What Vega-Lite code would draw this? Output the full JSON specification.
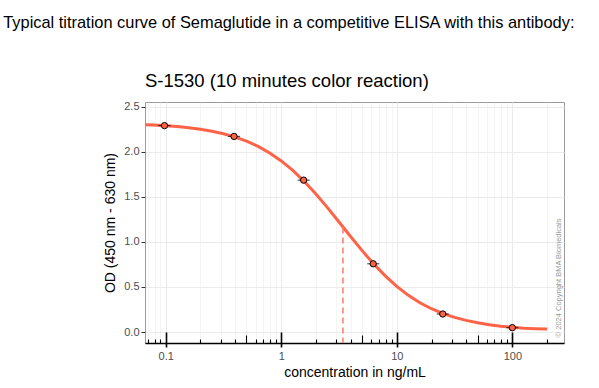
{
  "$schema": "https://vega.github.io/schema/vega-lite/v6.json",
  "padding": {"left": 3, "top": 15, "right": 5, "bottom": 5},
  "title": {
    "text": "Typical titration curve of Semaglutide in a competitive ELISA with this antibody:",
    "anchor": "start", "frame": "bounds", "dx": -100, "offset": 40,
    "fontSize": 16.4, "fontWeight": "normal", "color": "#000000", "font": "Liberation Sans"
  },
  "datasets": {
    "curve": [
      {"conc": 0.0662, "od": 2.300}, {"conc": 0.0794, "od": 2.297}, {"conc": 0.1, "od": 2.289},
      {"conc": 0.1259, "od": 2.279}, {"conc": 0.1585, "od": 2.267}, {"conc": 0.1995, "od": 2.250},
      {"conc": 0.2512, "od": 2.228}, {"conc": 0.3162, "od": 2.200}, {"conc": 0.3981, "od": 2.163},
      {"conc": 0.5012, "od": 2.117}, {"conc": 0.631, "od": 2.059}, {"conc": 0.7943, "od": 1.986},
      {"conc": 1, "od": 1.898}, {"conc": 1.259, "od": 1.793}, {"conc": 1.585, "od": 1.670},
      {"conc": 1.995, "od": 1.531}, {"conc": 2.512, "od": 1.380}, {"conc": 3.162, "od": 1.221},
      {"conc": 3.981, "od": 1.060}, {"conc": 5.012, "od": 0.903}, {"conc": 6.31, "od": 0.756},
      {"conc": 7.943, "od": 0.623}, {"conc": 10, "od": 0.506}, {"conc": 12.59, "od": 0.407},
      {"conc": 15.85, "od": 0.325}, {"conc": 19.95, "od": 0.258}, {"conc": 25.12, "od": 0.204},
      {"conc": 31.62, "od": 0.162}, {"conc": 39.81, "od": 0.129}, {"conc": 50.12, "od": 0.103},
      {"conc": 63.1, "od": 0.080}, {"conc": 79.43, "od": 0.064}, {"conc": 100, "od": 0.052},
      {"conc": 125.9, "od": 0.043}, {"conc": 158.5, "od": 0.037}, {"conc": 200, "od": 0.032}
    ],
    "points": [
      {"conc": 0.09765625, "od": 2.29}, {"conc": 0.390625, "od": 2.17}, {"conc": 1.5625, "od": 1.685},
      {"conc": 6.25, "od": 0.757}, {"conc": 25, "od": 0.2}, {"conc": 100, "od": 0.048}
    ],
    "ic50": [{"conc": 3.42, "od": 1.16}],
    "note": [{"conc": 255, "od": 0.6, "label": "© 2024 Copyright BMA Biomedicals"}]
  },
  "vconcat": [
    {
      "width": 419,
      "height": 241,
      "title": {
        "text": "S-1530 (10 minutes color reaction)",
        "anchor": "start", "frame": "group", "offset": 10,
        "fontSize": 18.5, "fontWeight": "normal", "color": "#000000", "font": "Liberation Sans"
      },
      "resolve": {"axis": {"x": "independent"}},
      "layer": [
        {
          "data": {"name": "curve"},
          "mark": {"type": "line", "color": "#ff6347", "strokeWidth": 3, "clip": true},
          "encoding": {
            "x": {
              "field": "conc", "type": "quantitative",
              "scale": {"type": "log", "domain": [0.0662, 280], "nice": false, "zero": false},
              "axis": {
                "orient": "bottom",
                "values": [0.07, 0.08, 0.09, 0.1, 0.2, 0.3, 0.4, 0.5, 0.6, 0.7, 0.8, 0.9, 1, 2, 3, 4, 5, 6, 7, 8, 9, 10, 20, 30, 40, 50, 60, 70, 80, 90, 100, 200],
                "title": null,
                "labels": false,
                "grid": true,
                "gridColor": "#ebebeb",
                "gridWidth": {"condition": {"test": "abs(log(datum.value)/LN10 - round(log(datum.value)/LN10)) < 0.001", "value": 1.1}, "value": 0.55},
                "domainColor": "#000000",
                "domainWidth": 1.4,
                "tickColor": "#000000",
                "tickWidth": {"condition": {"test": "abs(log(datum.value)/LN10 - round(log(datum.value)/LN10)) < 0.001", "value": 1.6}, "value": 1.1},
                "tickSize": {"condition": [
                  {"test": "abs(log(datum.value)/LN10 - round(log(datum.value)/LN10)) < 0.001", "value": -11},
                  {"test": "abs(datum.value / pow(10, floor(log(datum.value)/LN10 + 0.001)) - 5) < 0.01", "value": -8}
                ], "value": -4}
              }
            },
            "y": {
              "field": "od", "type": "quantitative",
              "scale": {"domain": [-0.122, 2.552], "nice": false, "zero": false},
              "axis": {
                "values": [0, 0.25, 0.5, 0.75, 1, 1.25, 1.5, 1.75, 2, 2.25, 2.5],
                "title": "OD (450 nm - 630 nm)",
                "grid": true,
                "gridColor": "#ebebeb",
                "gridWidth": {"condition": {"test": "abs(datum.value*2 - round(datum.value*2)) < 0.001", "value": 1.1}, "value": 0.55},
                "domain": false,
                "tickColor": "#333333",
                "tickSize": 4,
                "tickOpacity": {"condition": {"test": "abs(datum.value*2 - round(datum.value*2)) < 0.001", "value": 1}, "value": 0},
                "labelExpr": "abs(datum.value*2 - round(datum.value*2)) < 0.001 ? format(datum.value, '.1f') : ''",
                "labelPadding": 2,
                "labelOverlap": false,
                "titlePadding": 6
              }
            }
          }
        },
        {
          "data": {"name": "ic50"},
          "mark": {"type": "rule", "color": "#ff7a66", "strokeWidth": 1.5, "strokeDash": [6, 4], "clip": true},
          "encoding": {
            "x": {"field": "conc", "type": "quantitative", "axis": null},
            "y": {"field": "od", "type": "quantitative"},
            "y2": {"datum": -0.122}
          }
        },
        {
          "data": {"name": "points"},
          "mark": {"type": "tick", "orient": "horizontal", "size": 12, "thickness": 1.2, "color": "#000000"},
          "encoding": {
            "x": {"field": "conc", "type": "quantitative", "axis": null},
            "y": {"field": "od", "type": "quantitative"}
          }
        },
        {
          "data": {"name": "points"},
          "mark": {"type": "point", "shape": "circle", "size": 40, "filled": true, "fill": "#ff6347", "stroke": "#000000", "strokeWidth": 1, "opacity": 1},
          "encoding": {
            "x": {
              "field": "conc", "type": "quantitative",
              "axis": {
                "orient": "bottom",
                "values": [0.1, 1, 10, 100],
                "title": "concentration in ng/mL",
                "grid": false,
                "domain": false,
                "tickColor": "#000000",
                "tickWidth": 1.6,
                "tickSize": 4,
                "format": "~g",
                "labelPadding": 3,
                "labelOverlap": false,
                "labelFlush": false,
                "titlePadding": 4
              }
            },
            "y": {"field": "od", "type": "quantitative"}
          }
        },
        {
          "data": {"name": "note"},
          "mark": {"type": "text", "angle": 270, "fontSize": 7.5, "color": "#9a9a9a", "align": "center", "baseline": "middle"},
          "encoding": {
            "x": {"field": "conc", "type": "quantitative", "axis": null},
            "y": {"field": "od", "type": "quantitative"},
            "text": {"field": "label"}
          }
        }
      ]
    }
  ],
  "config": {
    "font": "Liberation Sans",
    "view": {"stroke": "#9a9a9a", "strokeWidth": 1},
    "axis": {
      "labelFont": "Liberation Sans", "labelFontSize": 11, "labelColor": "#4d4d4d",
      "titleFont": "Liberation Sans", "titleFontSize": 14, "titleFontWeight": "normal", "titleColor": "#000000"
    }
  }
}
